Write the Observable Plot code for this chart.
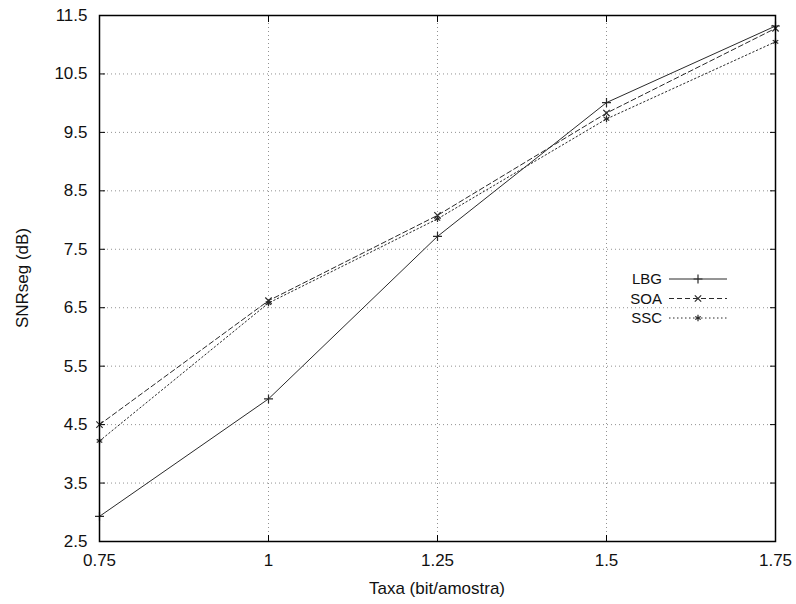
<!DOCTYPE html>
<html><head><meta charset="utf-8">
<script src="https://cdn.jsdelivr.net/npm/d3@7"></script>
<script src="https://cdn.jsdelivr.net/npm/@observablehq/plot@0.6"></script>
<style>
body{margin:0;background:#fff;}
#wrap{position:relative;width:796px;height:604px;font-family:"Liberation Sans",Arial,sans-serif;}
</style>
</head><body><div id="wrap"></div>
<script>
// ---- data ----
const rates = [0.75, 1, 1.25, 1.5, 1.75];
const seriesNames = ["LBG", "SOA", "SSC"];
const lbg = [2.93, 4.94, 7.72, 10.01, 11.32];
const soa = [4.50, 6.62, 8.08, 9.83, 11.28];
const ssc = [4.22, 6.58, 8.02, 9.73, 11.05];
const xTicks = [0.75, 1, 1.25, 1.5, 1.75];
const xTickLabels = ["0.75", "1", "1.25", "1.5", "1.75"];
const yTicks = [2.5, 3.5, 4.5, 5.5, 6.5, 7.5, 8.5, 9.5, 10.5, 11.5];
const yTickLabels = ["2.5", "3.5", "4.5", "5.5", "6.5", "7.5", "8.5", "9.5", "10.5", "11.5"];
const xLabel = "Taxa (bit/amostra)";
const yLabel = "SNRseg (dB)";

// ---- styles ----
const lineColor = "#2a2a2a";
const styles = {
  LBG: {dash: null, symbol: "plus"},
  SOA: {dash: "5,3", symbol: "times"},
  SSC: {dash: "1.5,2.5", symbol: "asterisk"}
};
const values = {LBG: lbg, SOA: soa, SSC: ssc};
const rows = seriesNames.flatMap(name => rates.map((r, i) => ({name, x: r, y: values[name][i]})));

const W = 796, H = 604, mL = 99, mR = 21, mT = 15, mB = 63;
const font = "17px";

const marks = [
  Plot.gridX(xTicks.slice(1, -1), {stroke: "#777", strokeOpacity: 0.8, strokeDasharray: "1,3"}),
  Plot.gridY(yTicks.slice(1, -1), {stroke: "#777", strokeOpacity: 0.8, strokeDasharray: "1,3"}),
  Plot.axisX(xTicks, {anchor: "bottom", tickSize: 0, tickPadding: 12, tickFormat: (d, i) => xTickLabels[i], label: null, fontSize: font, fill: "#111"}),
  Plot.axisY(yTicks, {anchor: "left", tickSize: 0, tickPadding: 12, tickFormat: (d, i) => yTickLabels[i], label: null, fontSize: font, fill: "#111"}),
  Plot.axisX(xTicks, {anchor: "bottom", tickSize: -6, tickFormat: () => "", label: null, stroke: "#000"}),
  Plot.axisX(xTicks, {anchor: "top", tickSize: -6, tickFormat: () => "", label: null, stroke: "#000"}),
  Plot.axisY(yTicks, {anchor: "left", tickSize: -6, tickFormat: () => "", label: null, stroke: "#000"}),
  Plot.axisY(yTicks, {anchor: "right", tickSize: -6, tickFormat: () => "", label: null, stroke: "#000"})
];
for (const name of seriesNames) {
  const d = rows.filter(r => r.name === name);
  marks.push(Plot.line(d, {x: "x", y: "y", stroke: lineColor, strokeWidth: 1, strokeDasharray: styles[name].dash}));
  marks.push(Plot.dot(d, {x: "x", y: "y", symbol: () => styles[name].symbol, r: 3, stroke: lineColor, strokeWidth: 1.2}));
}
marks.push(Plot.frame({stroke: "#000", strokeWidth: 1.5}));

const chart = Plot.plot({
  width: W, height: H,
  marginLeft: mL, marginRight: mR, marginTop: mT, marginBottom: mB,
  x: {domain: [0.75, 1.75]},
  y: {domain: [2.5, 11.5]},
  symbol: {type: "identity"},
  style: {fontFamily: '"Liberation Sans", Arial, sans-serif', fontSize: font, background: "#fff", color: "#111"},
  marks
});
document.getElementById("wrap").appendChild(chart);

// axis titles
const svg = d3.select(chart);
svg.append("text").attr("x", mL + (W - mL - mR) / 2).attr("y", 594)
  .attr("text-anchor", "middle").attr("font-size", font).attr("fill", "#111").text(xLabel);
svg.append("text").attr("transform", `translate(28,${mT + (H - mT - mB) / 2}) rotate(-90)`)
  .attr("text-anchor", "middle").attr("font-size", font).attr("fill", "#111").text(yLabel);

// legend (gnuplot-style key inside the plot)
const lg = svg.append("g");
const legX0 = 669, legX1 = 727, legTextX = 662, legY0 = 279, legDY = 19.5;
const sym = {plus: d3.symbolPlus, times: d3.symbolTimes, asterisk: d3.symbolAsterisk};
seriesNames.forEach((name, i) => {
  const y = legY0 + i * legDY;
  lg.append("text").attr("x", legTextX).attr("y", y).attr("dy", "0.35em")
    .attr("text-anchor", "end").attr("font-size", "15px").attr("fill", "#111").text(name);
  lg.append("line").attr("x1", legX0).attr("x2", legX1).attr("y1", y).attr("y2", y)
    .attr("stroke", lineColor).attr("stroke-width", 1)
    .attr("stroke-dasharray", styles[name].dash);
  lg.append("path").attr("transform", `translate(${(legX0 + legX1) / 2},${y})`)
    .attr("d", d3.symbol(sym[styles[name].symbol], 28)())
    .attr("fill", "none").attr("stroke", lineColor).attr("stroke-width", 1.2);
});
</script>
</body></html>
